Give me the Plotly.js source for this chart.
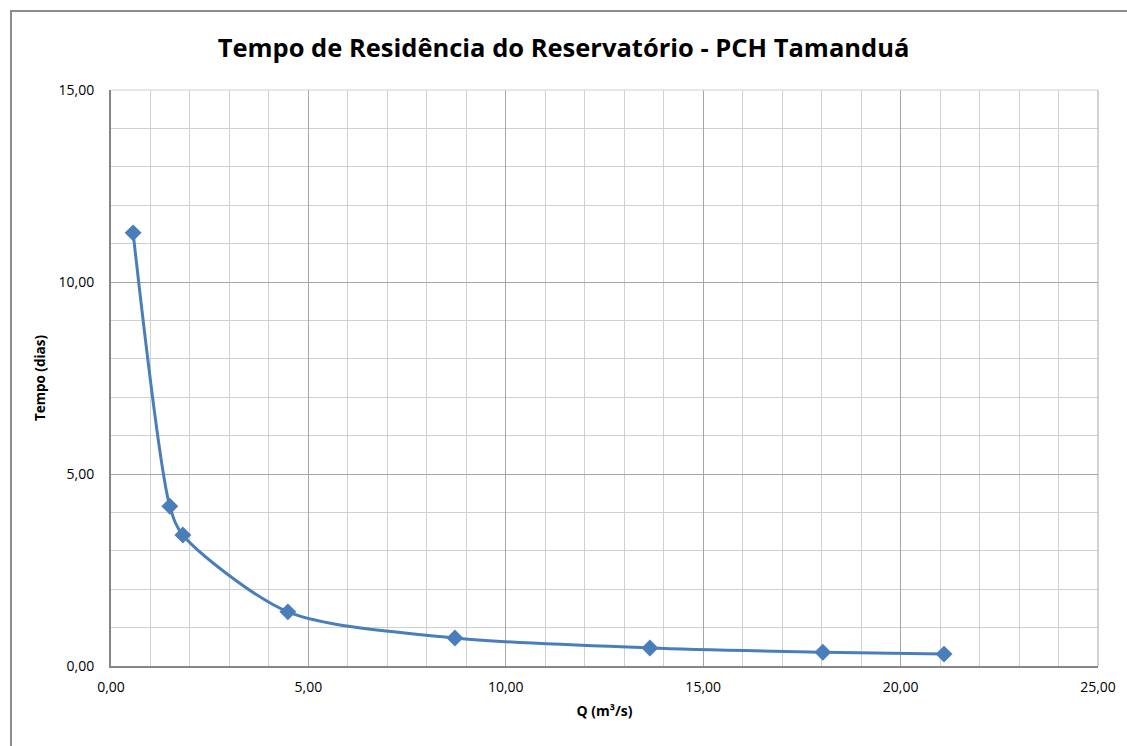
<!DOCTYPE html>
<html>
<head>
<meta charset="utf-8">
<script src="https://cdn.plot.ly/plotly-3.0.1.min.js"></script>
<style>
html,body{margin:0;padding:0;background:#fff;}
#frame{position:absolute;left:10px;top:10px;width:1117px;height:736px;border-left:2px solid #8c8c8c;border-top:2px solid #8c8c8c;pointer-events:none;z-index:5;}
#chart{position:absolute;left:0;top:0;width:1127px;height:746px;}
</style>
</head>
<body>
<div id="chart"></div>
<div id="frame"></div>
<script>
const chartTitle = "Tempo de Residência do Reservatório - PCH Tamanduá";
const xTitle = "Q (m³/s)";
const yTitle = "Tempo (dias)";
const vazao = [0.56, 1.49, 1.82, 4.48, 8.71, 13.65, 18.03, 21.10];
const tempo = [11.28, 4.16, 3.41, 1.41, 0.73, 0.47, 0.36, 0.31];

const lineColor = "#4a7ebb";
const trace = {
  x: vazao, y: tempo, type: "scatter", mode: "lines+markers",
  line: {color: lineColor, width: 3, shape: "spline", smoothing: 0.8},
  marker: {symbol: "diamond", size: 13, color: lineColor},
  hoverinfo: "x+y"
};

const layout = {
  width: 1127, height: 746,
  paper_bgcolor: "#fff", plot_bgcolor: "#fff",
  separators: ",.",
  margin: {l: 111, r: 29, t: 90, b: 80},
  showlegend: false,
  title: {text: "<b>" + chartTitle + "</b>", x: 0.5, xanchor: "center", y: 0.935, yanchor: "middle",
          font: {family: "Open Sans, sans-serif", size: 25.5, color: "#000"}},
  xaxis: {
    range: [0, 25], dtick: 5, tick0: 0, tickformat: ".2f",
    showgrid: true, gridcolor: "#a6a6a6", gridwidth: 1,
    minor: {dtick: 1, showgrid: true, gridcolor: "#d0d0d0", gridwidth: 1},
    showline: true, linecolor: "#868686", linewidth: 2, mirror: false,
    zeroline: false, ticks: "outside", ticklen: 7, tickcolor: "rgba(0,0,0,0)",
    tickfont: {family: "Open Sans, sans-serif", size: 14, color: "#000"},
    title: {text: "<b>" + xTitle + "</b>", standoff: 11, font: {family: "Open Sans, sans-serif", size: 14, color: "#000"}}
  },
  yaxis: {
    range: [0, 15], dtick: 5, tick0: 0, tickformat: ".2f",
    showgrid: true, gridcolor: "#a6a6a6", gridwidth: 1,
    minor: {dtick: 1, showgrid: true, gridcolor: "#d0d0d0", gridwidth: 1},
    showline: true, linecolor: "#868686", linewidth: 2,
    zeroline: false, ticks: "outside", ticklen: 12, tickcolor: "rgba(0,0,0,0)",
    tickfont: {family: "Open Sans, sans-serif", size: 14, color: "#000"},
    title: {text: "<b>" + yTitle + "</b>", standoff: 10, font: {family: "Open Sans, sans-serif", size: 13.5, color: "#000"}}
  },
  shapes: [
    {type: "line", xref: "paper", yref: "paper", x0: 1, x1: 1, y0: 0, y1: 1, line: {color: "#a6a6a6", width: 1}},
    {type: "line", xref: "paper", yref: "paper", x0: 0, x1: 1, y0: 1, y1: 1, line: {color: "#d0d0d0", width: 1}}
  ]
};

Plotly.newPlot("chart", [trace], layout, {displayModeBar: false, responsive: false});
</script>
</body>
</html>
